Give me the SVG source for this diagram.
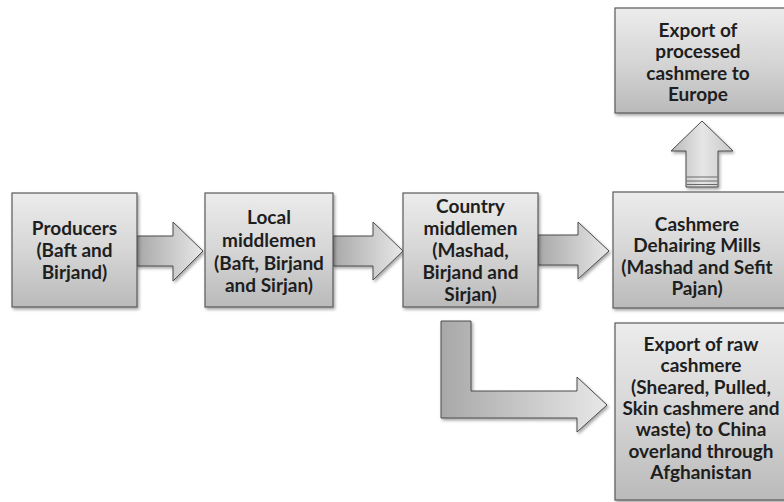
<svg xmlns="http://www.w3.org/2000/svg" width="784" height="502" viewBox="0 0 784 502">
<defs>
<linearGradient id="boxG" x1="0" y1="0" x2="0" y2="1">
<stop offset="0" stop-color="#ececec"/>
<stop offset="0.5" stop-color="#d6d6d6"/>
<stop offset="1" stop-color="#bababa"/>
</linearGradient>
<linearGradient id="arrG" x1="0" y1="0" x2="1" y2="0">
<stop offset="0" stop-color="#a8a8a8"/>
<stop offset="1" stop-color="#e8e8e8"/>
</linearGradient>
<linearGradient id="upG" x1="0" y1="0" x2="1" y2="0">
<stop offset="0" stop-color="#b8b8b8"/>
<stop offset="0.5" stop-color="#e6e6e6"/>
<stop offset="1" stop-color="#c8c8c8"/>
</linearGradient>
<filter id="sh" x="-10%" y="-10%" width="130%" height="130%">
<feDropShadow dx="1.5" dy="2" stdDeviation="1.5" flood-color="#000" flood-opacity="0.35"/>
</filter>
</defs>
<style>
.box{fill:url(#boxG);stroke:#5a5a5a;stroke-width:1.2;filter:url(#sh)}
.arr{fill:url(#arrG);stroke:#4a4a4a;stroke-width:1;filter:url(#sh)}
.up{fill:url(#upG);stroke:#4a4a4a;stroke-width:1;filter:url(#sh)}
.t{font-family:Lato,"Liberation Sans",sans-serif;font-weight:bold;font-size:19px;fill:#1e1e1e;text-anchor:middle}
.st{stroke:#6a6a6a;stroke-width:1;fill:none}
</style>
<g id="connectors">
<path class="arr" d="M137,236 H173 V222 L203,251 L173,281 V266 H137 Z"/>
<path class="arr" d="M333,236 H373 V222 L403,251 L373,280 V266 H333 Z"/>
<path class="arr" d="M538,235 H578 V222 L609,251 L578,279 V265 H538 Z"/>
<path class="arr" d="M441,321 H471 V391 H577 V377 L607,405 L577,432 V418 H441 Z"/>
<path class="up" d="M686,187 V151 H671 L702,121 L733,151 H718 V187 Z"/>
<path class="st" d="M686.5,177 H717.5 M686.5,181 H717.5 M686.5,184.5 H717.5"/>
</g>
<g id="producers">
<rect class="box" x="12" y="193" width="125" height="114"/>
<text class="t"><tspan x="74.5" y="235">Producers</tspan><tspan x="74.5" y="257">(Baft and</tspan><tspan x="74.5" y="279">Birjand)</tspan></text>
</g>
<g id="local">
<rect class="box" x="205" y="193" width="128" height="114"/>
<text class="t"><tspan x="269" y="224">Local</tspan><tspan x="269" y="247">middlemen</tspan><tspan x="269" y="270">(Baft, Birjand</tspan><tspan x="269" y="292">and Sirjan)</tspan></text>
</g>
<g id="country">
<rect class="box" x="403" y="193" width="135" height="114"/>
<text class="t"><tspan x="470.5" y="213">Country</tspan><tspan x="470.5" y="235">middlemen</tspan><tspan x="470.5" y="257">(Mashad,</tspan><tspan x="470.5" y="279">Birjand and</tspan><tspan x="470.5" y="301">Sirjan)</tspan></text>
</g>
<g id="mills">
<rect class="box" x="613" y="192" width="180" height="116"/>
<text class="t"><tspan x="697" y="231">Cashmere</tspan><tspan x="697" y="252">Dehairing Mills</tspan><tspan x="697" y="274">(Mashad and Sefit</tspan><tspan x="697" y="295">Pajan)</tspan></text>
</g>
<g id="europe">
<rect class="box" x="615" y="8" width="178" height="105"/>
<text class="t"><tspan x="698" y="37">Export of</tspan><tspan x="698" y="58">processed</tspan><tspan x="698" y="80">cashmere to</tspan><tspan x="698" y="101">Europe</tspan></text>
</g>
<g id="china">
<rect class="box" x="615" y="323" width="178" height="177"/>
<text class="t"><tspan x="701" y="351">Export of raw</tspan><tspan x="701" y="372">cashmere</tspan><tspan x="701" y="394">(Sheared, Pulled,</tspan><tspan x="701" y="415">Skin cashmere and</tspan><tspan x="701" y="436">waste) to China</tspan><tspan x="701" y="458">overland through</tspan><tspan x="701" y="479">Afghanistan</tspan></text>
</g>
</svg>
